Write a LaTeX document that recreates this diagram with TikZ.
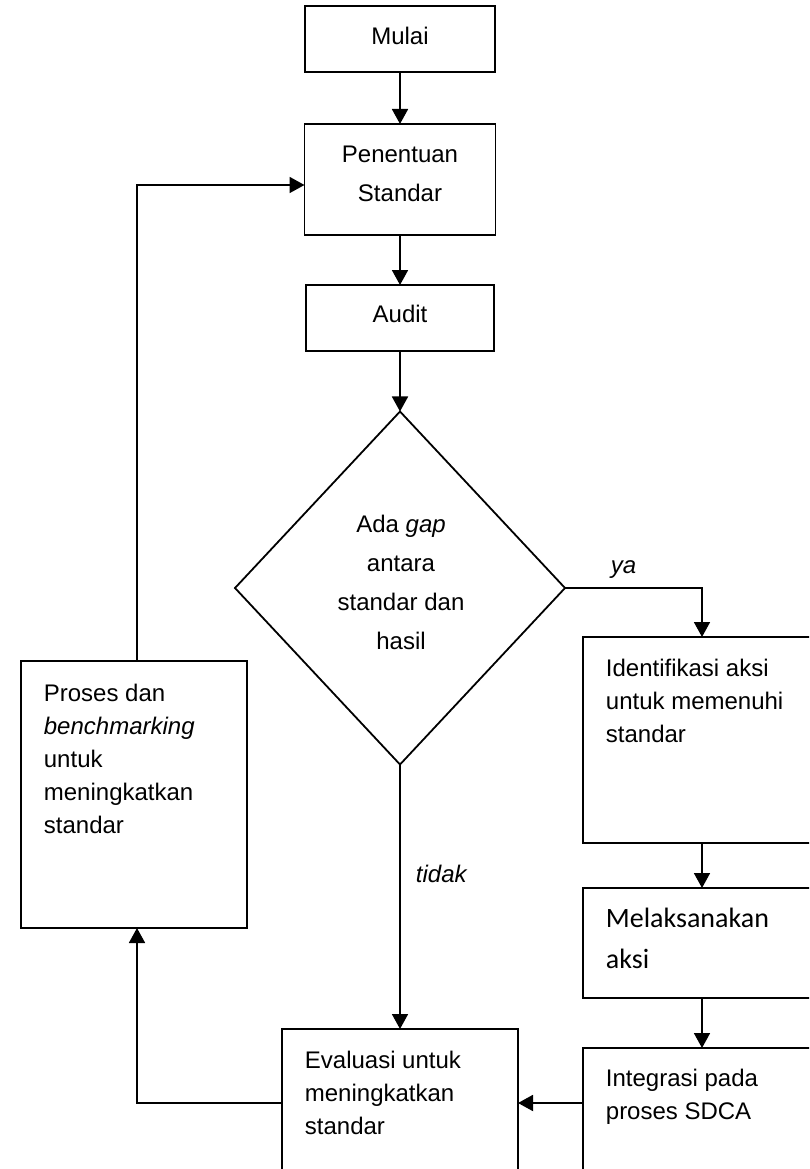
\documentclass[tikz,border=0pt]{standalone}
\usepackage{fontspec}
\setmainfont{Liberation Sans}
\newfontfamily\calibrifont{Carlito}
\usetikzlibrary{shapes.geometric,arrows.meta}

\begin{document}
\begin{tikzpicture}[x=1pt, y=-1pt, line width=1.8pt,
        box/.style={draw, rectangle, inner sep=0pt, outer sep=0pt},
        txt/.style={inner sep=0pt, font=\fontsize{24}{33}\selectfont},
        arr/.style={-{Triangle[length=15pt, width=16pt]}}]
    \useasboundingbox (0,0) rectangle (809,1169);
    \clip (0,0) rectangle (809,1169);

    \node (mulai) [box, minimum width=190pt, minimum height=66pt] at (400,39) {};
    \node (penentuan) [box, minimum width=191pt, minimum height=111pt] at (400,179.5) {};
    \node (audit) [box, minimum width=188pt, minimum height=66pt] at (400,318) {};
    \node (dec) [draw, diamond, inner sep=0pt, outer sep=0pt, minimum width=330pt, minimum height=353pt] at (400,588) {};
    \node (identifikasi) [box, minimum width=238pt, minimum height=206pt] at (702,740) {};
    \node (melaksanakan) [box, minimum width=238pt, minimum height=110pt] at (702,943) {};
    \node (integrasi) [box, minimum width=238pt, minimum height=152pt] at (702,1124) {};
    \node (evaluasi) [box, minimum width=236pt, minimum height=171pt] at (400,1114.5) {};
    \node (proses) [box, minimum width=226pt, minimum height=267pt] at (134,794.5) {};

    \node (mulaitxt) [txt, anchor=base] at (400,45) {Mulai};
    \node (penentuantxt) [txt, anchor=north, align=center, font=\fontsize{24}{39}\selectfont] at (400,145) {Penentuan\\Standar};
    \node (audittxt) [txt, anchor=base] at (400,322) {Audit};
    \node (dectxt) [txt, anchor=north, align=center, font=\fontsize{24}{39}\selectfont] at (401,514) {Ada \textit{gap}\\antara\\standar dan\\hasil};
    \node (yatxt) [txt, anchor=base west] at (610,573) {\textit{ya}};
    \node (tidaktxt) [txt, anchor=base west] at (415,882) {\textit{tidak}};
    \node (identifikasitxt) [txt, anchor=north west, align=left] at (605,658) {Identifikasi aksi\\untuk memenuhi\\standar};
    \node (melaksanakantxt) [txt, anchor=north west, align=left, font=\calibrifont\fontsize{28}{41}\selectfont] at (605,907.5) {Melaksanakan\\aksi};
    \node (integrasitxt) [txt, anchor=north west, align=left] at (605,1068) {Integrasi pada\\proses SDCA};
    \node (evaluasitxt) [txt, anchor=north west, align=left] at (304,1050) {Evaluasi untuk\\meningkatkan\\standar};
    \node (prosestxt) [txt, anchor=north west, align=left] at (43,683) {Proses dan\\\textit{benchmarking}\\untuk\\meningkatkan\\standar};

    \coordinate (balik) at (137,1103);
    \coordinate (atas) at (137,185);

    \draw[arr] (mulai) -- (penentuan);
    \draw[arr] (penentuan) -- (audit);
    \draw[arr] (audit) -- (dec);
    \draw[arr] (dec.east) -| (identifikasi.north);
    \draw[arr] (identifikasi) -- (melaksanakan);
    \draw[arr] (melaksanakan) -- (integrasi);
    \draw[arr] (dec) -- (evaluasi);
    \draw[arr] (integrasi.west |- balik) -- (evaluasi.east |- balik);
    \draw[arr] (evaluasi.west |- balik) -- (balik) -- (balik |- proses.south);
    \draw[arr] (atas |- proses.north) -- (atas) -- (penentuan.west |- atas);
\end{tikzpicture}
\end{document}
